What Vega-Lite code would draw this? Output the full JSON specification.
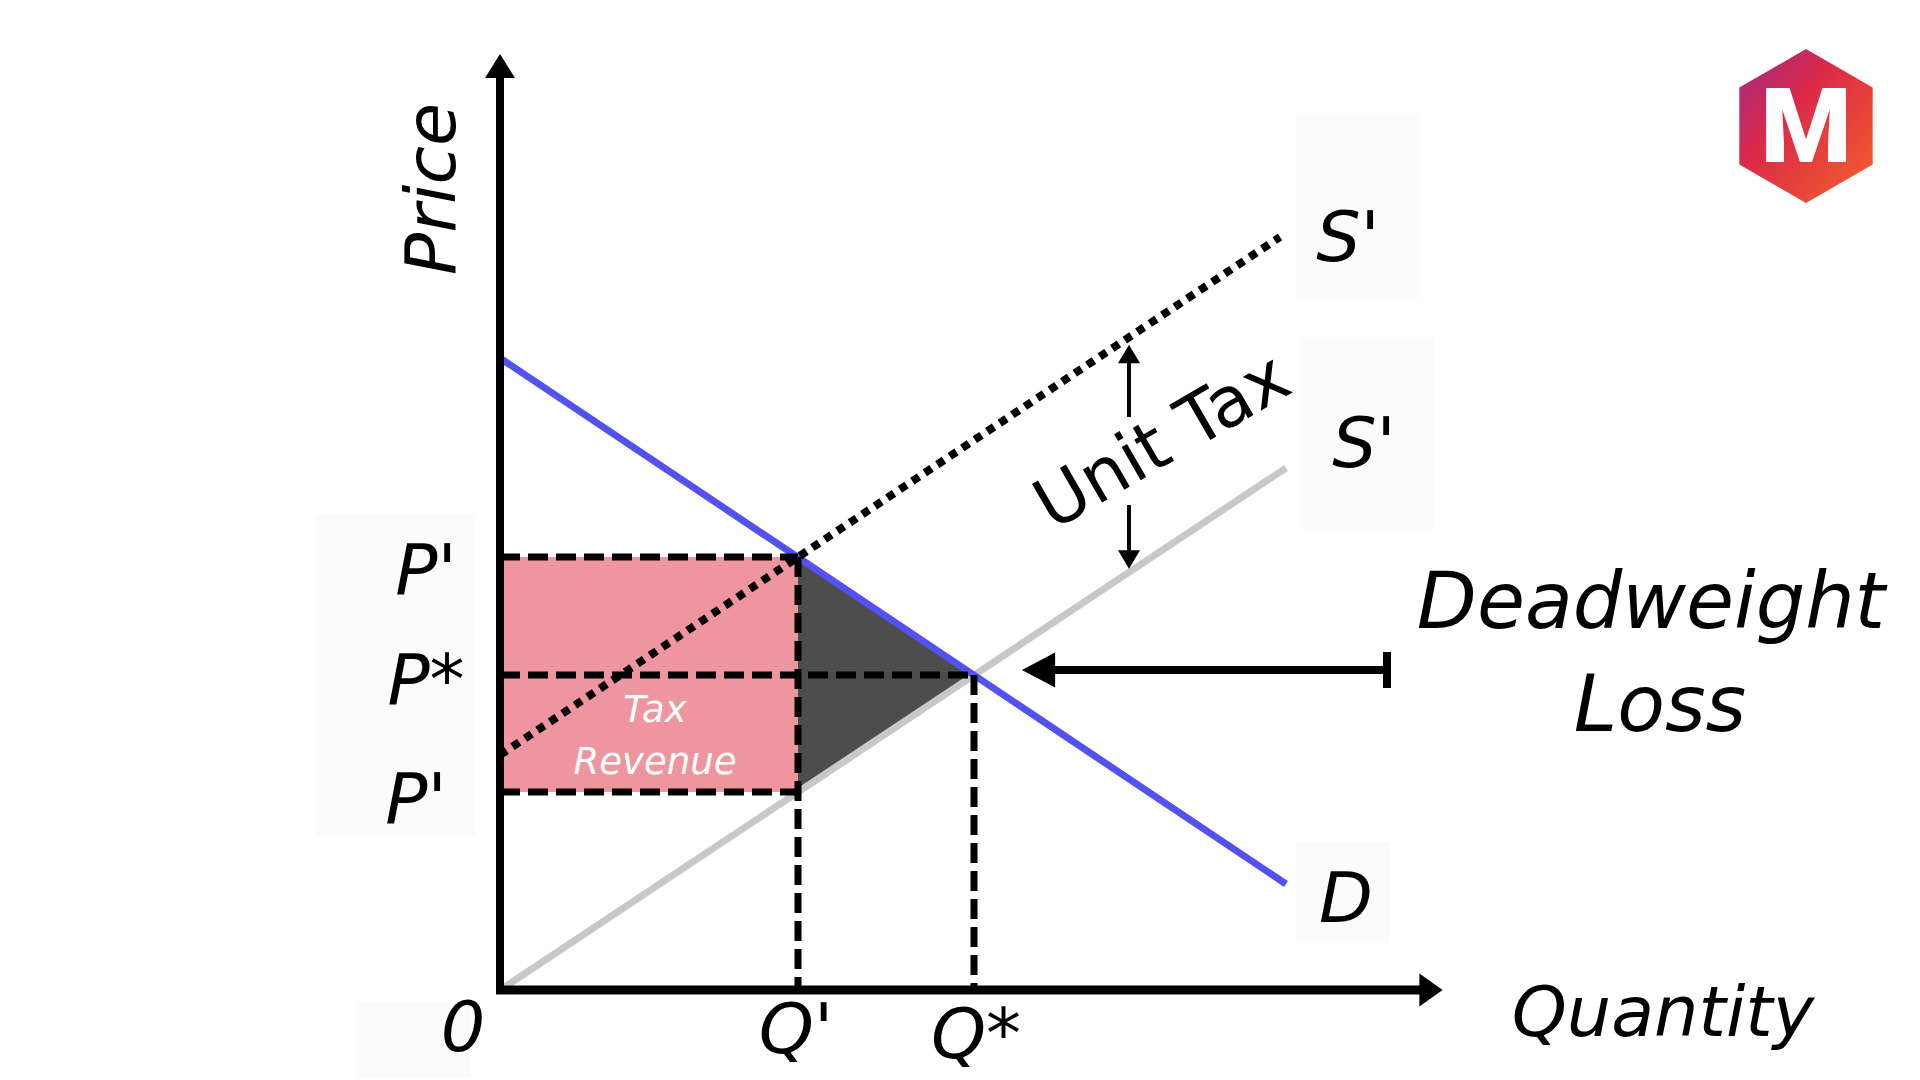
{
  "$schema": "https://vega.github.io/schema/vega-lite/v6.json",
  "width": 1920,
  "height": 1080,
  "autosize": {"type": "fit", "contains": "padding"},
  "padding": 0,
  "background": "white",
  "config": {"view": {"stroke": null}},
  "datasets": {
    "boxes": [
      {"q": -1.84, "p": 4.76, "q2": -0.25, "p2": 1.54},
      {"q": -1.42, "p": -0.12, "q2": -0.29, "p2": -0.88},
      {"q": 7.96, "p": 8.77, "q2": 9.2, "p2": 6.92},
      {"q": 8.02, "p": 6.53, "q2": 9.35, "p2": 4.6},
      {"q": 7.96, "p": 1.48, "q2": 8.9, "p2": 0.47}
    ],
    "revenue": [{"q": 0, "p": 1.98, "q2": 2.98, "p2": 4.33}],
    "dwl": [
      {"q": 2.98, "p": 4.33, "plow": 1.98},
      {"q": 4.74, "p": 3.15, "plow": 3.15}
    ],
    "curves": [
      {"id": "S", "q": 0, "p": 0, "q2": 7.86, "p2": 5.22},
      {"id": "D", "q": 0, "p": 6.32, "q2": 7.86, "p2": 1.06},
      {"id": "Stax", "q": 0, "p": 2.35, "q2": 7.8, "p2": 7.53}
    ],
    "dashed": [
      {"q": 0, "p": 4.33, "q2": 2.98, "p2": 4.33},
      {"q": 0, "p": 3.15, "q2": 4.74, "p2": 3.15},
      {"q": 0, "p": 1.98, "q2": 2.98, "p2": 1.98},
      {"q": 2.98, "p": 4.33, "q2": 2.98, "p2": 0},
      {"q": 4.74, "p": 3.15, "q2": 4.74, "p2": 0}
    ],
    "yaxis": [{"q": 0, "p": -0.04, "q2": 0, "p2": 9.22}],
    "xaxis": [{"q": -0.04, "p": 0, "q2": 9.3, "p2": 0}],
    "taxarrow": [
      {"q": 6.29, "p": 6.36, "q2": 6.29, "p2": 5.73},
      {"q": 6.29, "p": 4.85, "q2": 6.29, "p2": 4.3}
    ],
    "dwlarrow": [
      {"q": 5.38, "p": 3.2, "q2": 8.87, "p2": 3.2},
      {"q": 8.87, "p": 3.02, "q2": 8.87, "p2": 3.38}
    ],
    "yhead": [{"q": 0, "p": 9.24}],
    "xhead": [{"q": 9.31, "p": 0}],
    "taxup": [{"q": 6.29, "p": 6.36}],
    "taxdown": [{"q": 6.29, "p": 4.305}],
    "dwlhead": [{"q": 5.385, "p": 3.2}],
    "labels": [
      {"q": -0.74, "p": 3.96, "label": "P'"},
      {"q": -0.74, "p": 2.86, "label": "P*"},
      {"q": -0.84, "p": 1.67, "label": "P'"},
      {"q": -0.37, "p": -0.61, "label": "0"},
      {"q": 2.96, "p": -0.63, "label": "Q'"},
      {"q": 4.76, "p": -0.68, "label": "Q*"},
      {"q": 8.48, "p": 7.29, "label": "S'"},
      {"q": 8.64, "p": 5.23, "label": "S'"},
      {"q": 8.46, "p": 0.68, "label": "D"},
      {"q": 11.63, "p": -0.46, "label": "Quantity"}
    ],
    "price": [{"q": -0.45, "p": 8.01, "label": "Price"}],
    "dwltext": [
      {"q": 11.51, "p": 3.62, "label": "Deadweight"},
      {"q": 11.6, "p": 2.59, "label": "Loss"}
    ],
    "unittax": [{"q": 6.63, "p": 5.47, "label": "Unit Tax"}],
    "revtext": [
      {"q": 1.55, "p": 2.68, "label": "Tax"},
      {"q": 1.55, "p": 2.16, "label": "Revenue"}
    ],
    "logo": [{"q": 13.06, "p": 8.64}],
    "logotext": [{"q": 13.06, "p": 8.28, "label": "M"}]
  },
  "encoding": {
    "x": {"field": "q", "type": "quantitative", "scale": {"domain": [-5, 14.2], "nice": false, "zero": false}, "axis": null},
    "y": {"field": "p", "type": "quantitative", "scale": {"domain": [-0.9, 9.9], "nice": false, "zero": false}, "axis": null}
  },
  "layer": [
    {"data": {"name": "boxes"}, "mark": {"type": "rect", "color": "#fbfbfb"},
     "encoding": {"x2": {"field": "q2"}, "y2": {"field": "p2"}}},
    {"data": {"name": "revenue"}, "mark": {"type": "rect", "color": "#ee959f"},
     "encoding": {"x2": {"field": "q2"}, "y2": {"field": "p2"}}},
    {"data": {"name": "dwl"}, "mark": {"type": "area", "color": "#4d4d4d", "opacity": 1},
     "encoding": {"y2": {"field": "plow"}}},
    {"data": {"name": "curves"}, "transform": [{"filter": "datum.id === 'S'"}],
     "mark": {"type": "rule", "color": "#c8c8c8", "strokeWidth": 7},
     "encoding": {"x2": {"field": "q2"}, "y2": {"field": "p2"}}},
    {"data": {"name": "curves"}, "transform": [{"filter": "datum.id === 'D'"}],
     "mark": {"type": "rule", "color": "#5252f0", "strokeWidth": 7},
     "encoding": {"x2": {"field": "q2"}, "y2": {"field": "p2"}}},
    {"data": {"name": "curves"}, "transform": [{"filter": "datum.id === 'Stax'"}],
     "mark": {"type": "rule", "color": "black", "strokeWidth": 8, "strokeDash": [8, 7], "strokeCap": "butt"},
     "encoding": {"x2": {"field": "q2"}, "y2": {"field": "p2"}}},
    {"data": {"name": "dashed"},
     "mark": {"type": "rule", "color": "black", "strokeWidth": 7, "strokeDash": [20, 8], "strokeCap": "butt"},
     "encoding": {"x2": {"field": "q2"}, "y2": {"field": "p2"}}},
    {"data": {"name": "yaxis"}, "mark": {"type": "rule", "color": "black", "strokeWidth": 8},
     "encoding": {"x2": {"field": "q2"}, "y2": {"field": "p2"}}},
    {"data": {"name": "xaxis"}, "mark": {"type": "rule", "color": "black", "strokeWidth": 9},
     "encoding": {"x2": {"field": "q2"}, "y2": {"field": "p2"}}},
    {"data": {"name": "taxarrow"}, "mark": {"type": "rule", "color": "black", "strokeWidth": 4},
     "encoding": {"x2": {"field": "q2"}, "y2": {"field": "p2"}}},
    {"data": {"name": "dwlarrow"}, "mark": {"type": "rule", "color": "black", "strokeWidth": 8},
     "encoding": {"x2": {"field": "q2"}, "y2": {"field": "p2"}}},
    {"data": {"name": "yhead"}, "mark": {"type": "point", "shape": "M0,-0.8L1,0.8L-1,0.8Z", "size": 900, "filled": true, "color": "black", "opacity": 1, "strokeWidth": 0}},
    {"data": {"name": "xhead"}, "mark": {"type": "point", "shape": "M0.7,0L-0.7,1L-0.7,-1Z", "size": 1100, "filled": true, "color": "black", "opacity": 1, "strokeWidth": 0}},
    {"data": {"name": "taxup"}, "mark": {"type": "point", "shape": "M0,-0.85L1,0.85L-1,0.85Z", "size": 484, "filled": true, "color": "black", "opacity": 1, "strokeWidth": 0}},
    {"data": {"name": "taxdown"}, "mark": {"type": "point", "shape": "M0,0.85L1,-0.85L-1,-0.85Z", "size": 484, "filled": true, "color": "black", "opacity": 1, "strokeWidth": 0}},
    {"data": {"name": "dwlhead"}, "mark": {"type": "point", "shape": "M-0.95,0L0.95,1L0.95,-1Z", "size": 1225, "filled": true, "color": "black", "opacity": 1, "strokeWidth": 0}},
    {"data": {"name": "labels"},
     "mark": {"type": "text", "font": "DejaVu Sans", "fontStyle": "italic", "fontSize": 70, "align": "center", "baseline": "alphabetic", "color": "black"},
     "encoding": {"text": {"field": "label"}}},
    {"data": {"name": "price"},
     "mark": {"type": "text", "font": "DejaVu Sans", "fontStyle": "italic", "fontSize": 70, "align": "center", "baseline": "alphabetic", "angle": 270, "color": "black"},
     "encoding": {"text": {"field": "label"}}},
    {"data": {"name": "dwltext"},
     "mark": {"type": "text", "font": "DejaVu Sans", "fontStyle": "italic", "fontSize": 78, "align": "center", "baseline": "alphabetic", "color": "black"},
     "encoding": {"text": {"field": "label"}}},
    {"data": {"name": "unittax"},
     "mark": {"type": "text", "font": "DejaVu Sans", "fontSize": 70, "align": "center", "baseline": "middle", "angle": 330, "color": "black"},
     "encoding": {"text": {"field": "label"}}},
    {"data": {"name": "revtext"},
     "mark": {"type": "text", "font": "DejaVu Sans", "fontStyle": "italic", "fontSize": 37, "align": "center", "baseline": "alphabetic", "color": "white"},
     "encoding": {"text": {"field": "label"}}},
    {"data": {"name": "logo"},
     "mark": {"type": "point", "shape": "M0,-1L0.866,-0.5L0.866,0.5L0,1L-0.866,0.5L-0.866,-0.5Z", "size": 23716, "filled": true, "opacity": 1, "strokeWidth": 0,
              "fill": {"gradient": "linear", "x1": 0, "y1": 0, "x2": 1, "y2": 1, "stops": [{"offset": 0, "color": "#a12a86"}, {"offset": 0.4, "color": "#dc2a48"}, {"offset": 1, "color": "#f4632a"}]}}},
    {"data": {"name": "logotext"},
     "mark": {"type": "text", "font": "Roboto", "fontWeight": 900, "fontSize": 104, "align": "center", "baseline": "alphabetic", "color": "white"},
     "encoding": {"text": {"field": "label"}}}
  ]
}
